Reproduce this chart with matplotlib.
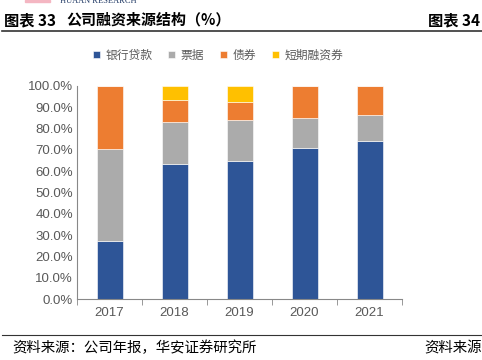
import matplotlib
matplotlib.use("Agg")
import matplotlib.pyplot as plt
import numpy as np
from matplotlib.ticker import FuncFormatter
from matplotlib.patches import Rectangle

plt.rcParams['font.family'] = ['Liberation Sans', 'Noto Sans CJK SC', 'DejaVu Sans']

# 数据（%）
years = ["2017", "2018", "2019", "2020", "2021"]
series_names = ["银行贷款", "票据", "债券", "短期融资券"]
bank_loan = [27.2, 63.5, 64.9, 70.9, 74.0]
bills = [43.1, 19.6, 19.1, 14.2, 12.4]
bonds = [29.7, 10.3, 8.3, 14.9, 13.6]
short_term = [0.0, 6.6, 7.7, 0.0, 0.0]
colors = ["#2E5597", "#ABABAB", "#ED7D31", "#FFC000"]

W, H = 482, 360
fig = plt.figure(figsize=(W / 100, H / 100), dpi=100)
ax = fig.add_axes([77 / W, 61 / H, 325 / W, 213 / H])

x = np.arange(len(years))
bottom = np.zeros(len(years))
for name, vals, c in zip(series_names, [bank_loan, bills, bonds, short_term], colors):
    vals = np.array(vals) / 100
    ax.bar(x, vals, width=0.4, bottom=bottom, color=c, label=name,
           edgecolor="white", linewidth=0.4)
    bottom += vals

ax.set_xlim(-0.5, len(years) - 0.5)
ax.set_ylim(0, 1.0)
ax.set_yticks(np.arange(0, 1.01, 0.1))
ax.yaxis.set_major_formatter(FuncFormatter(lambda v, p: f"{v * 100:.1f}%"))
ax.set_xticks(x)
ax.set_xticklabels(years)
ax.set_xticks(np.arange(-0.5, len(years)), minor=True)
ax.tick_params(axis="x", which="major", length=0, pad=6, labelsize=9.5, labelcolor="#595959")
ax.tick_params(axis="x", which="minor", length=4, color="#888888")
ax.tick_params(axis="y", length=0, pad=3, labelsize=9.5, labelcolor="#595959")
for s in ["top", "right"]:
    ax.spines[s].set_visible(False)
ax.spines["left"].set_color("#888888")
ax.spines["bottom"].set_color("#888888")

fig.legend(loc="center", bbox_to_anchor=(218 / W, 1 - 55 / H), ncol=4, frameon=False,
           handlelength=0.6, handleheight=0.6, handletextpad=0.5,
           columnspacing=1.3, labelcolor="#595959",
           prop={"family": ["Noto Sans CJK SC"], "size": 8.5})

cjk = ["Noto Sans CJK SC"]
renderer = fig.canvas.get_renderer()


def fit_text(x0, x1, y, s, size, **kw):
    # 按参考图中的起止位置调整字号
    t = fig.text(x0 / W, 1 - y / H, s, fontsize=size, va="center", ha="left", **kw)
    w = t.get_window_extent(renderer).width
    t.set_fontsize(size * (x1 - x0) / w)
    return t


# 标题与来源
fig.text(4 / W, 1 - 20 / H, "图表 33", fontsize=11, fontweight="bold",
         va="center", ha="left", family=cjk)
fit_text(66, 230, 20, "公司融资来源结构（%）", 11, fontweight="bold", family=cjk)
fig.text(480 / W, 1 - 20 / H, "图表 34", fontsize=11, fontweight="bold",
         va="center", ha="right", family=cjk)
fig.add_artist(Rectangle((25 / W, 1 - 1.5 / H), 25 / W, 1.5 / H, color="#F4B6C2",
                         transform=fig.transFigure))
fig.text(60 / W, 1 - 1 / H, "HUAAN RESEARCH", fontsize=6, color="#1F3864",
         va="center", ha="left", family=["Liberation Serif"])
fig.add_artist(plt.Line2D([2 / W, 1], [1 - 31 / H] * 2, color="#333333", linewidth=1.2))
fig.add_artist(plt.Line2D([2 / W, 1], [1 - 335 / H] * 2, color="#333333", linewidth=0.8))
fit_text(12, 257, 348, "资料来源：公司年报，华安证券研究所", 9, family=cjk)
fig.text(482 / W, 1 - 348 / H, "资料来源", fontsize=10.4,
         va="center", ha="right", family=cjk)

fig.savefig("out.png", dpi=100)
